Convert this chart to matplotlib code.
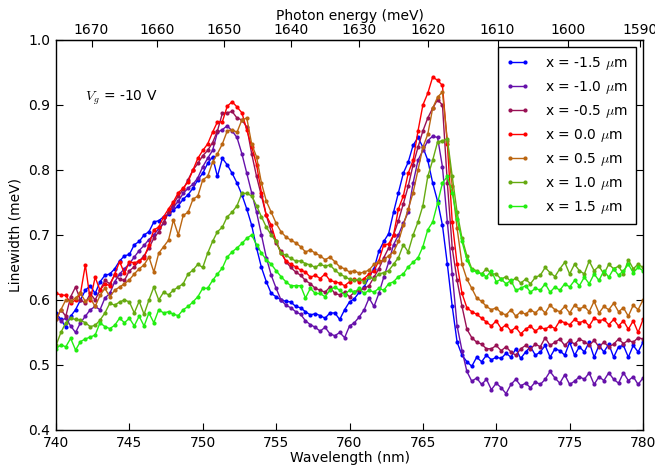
import numpy as np
import matplotlib
matplotlib.use('Agg')
import matplotlib.pyplot as plt

# wavelength grid of the spectrometer (nm), 1/3 nm steps
wl = np.round(np.linspace(740, 780, 121), 3)

lw_m15 = [0.580, 0.570, 0.558, 0.575, 0.585, 0.600, 0.615, 0.622, 0.610, 0.628, 0.638, 0.640,
          0.648, 0.660, 0.668, 0.670, 0.685, 0.690, 0.700, 0.705, 0.720, 0.722, 0.728, 0.732,
          0.738, 0.745, 0.755, 0.762, 0.772, 0.785, 0.795, 0.810, 0.820, 0.790, 0.818, 0.808,
          0.795, 0.780, 0.762, 0.740, 0.715, 0.680, 0.650, 0.628, 0.610, 0.605, 0.600, 0.598,
          0.597, 0.590, 0.588, 0.582, 0.577, 0.579, 0.576, 0.572, 0.580, 0.580, 0.570, 0.585,
          0.597, 0.602, 0.612, 0.620, 0.635, 0.648, 0.675, 0.690, 0.702, 0.735, 0.765, 0.795,
          0.812, 0.838, 0.850, 0.835, 0.815, 0.780, 0.752, 0.715, 0.655, 0.590, 0.535, 0.515,
          0.505, 0.498, 0.512, 0.505, 0.515, 0.508, 0.512, 0.510, 0.518, 0.512, 0.525, 0.510,
          0.520, 0.528, 0.515, 0.520, 0.530, 0.512, 0.525, 0.522, 0.515, 0.535, 0.515, 0.528,
          0.520, 0.535, 0.512, 0.530, 0.520, 0.532, 0.512, 0.528, 0.530, 0.512, 0.530, 0.520,
          0.535]
lw_m10 = [0.575, 0.568, 0.572, 0.560, 0.550, 0.565, 0.575, 0.585, 0.590, 0.585, 0.603, 0.610,
          0.628, 0.640, 0.648, 0.656, 0.666, 0.676, 0.684, 0.693, 0.700, 0.710, 0.718, 0.735,
          0.743, 0.752, 0.764, 0.772, 0.778, 0.788, 0.805, 0.818, 0.830, 0.858, 0.862, 0.868,
          0.860, 0.850, 0.825, 0.795, 0.765, 0.735, 0.700, 0.665, 0.638, 0.618, 0.600, 0.592,
          0.588, 0.582, 0.578, 0.568, 0.562, 0.558, 0.552, 0.558, 0.548, 0.545, 0.550, 0.542,
          0.560, 0.565, 0.574, 0.585, 0.603, 0.590, 0.610, 0.635, 0.658, 0.685, 0.700, 0.718,
          0.735, 0.780, 0.815, 0.830, 0.845, 0.852, 0.850, 0.805, 0.720, 0.640, 0.560, 0.522,
          0.490, 0.475, 0.480, 0.470, 0.478, 0.462, 0.472, 0.465, 0.456, 0.470, 0.478, 0.468,
          0.472, 0.465, 0.474, 0.470, 0.478, 0.490, 0.480, 0.472, 0.485, 0.470, 0.475, 0.482,
          0.478, 0.488, 0.470, 0.482, 0.476, 0.488, 0.478, 0.472, 0.488, 0.476, 0.482, 0.470,
          0.480]
lw_m05 = [0.570, 0.585, 0.575, 0.605, 0.620, 0.600, 0.595, 0.610, 0.600, 0.615, 0.630, 0.625,
          0.638, 0.632, 0.630, 0.645, 0.651, 0.660, 0.668, 0.680, 0.695, 0.705, 0.720, 0.735,
          0.748, 0.760, 0.770, 0.785, 0.800, 0.810, 0.822, 0.830, 0.842, 0.860, 0.887, 0.888,
          0.890, 0.880, 0.877, 0.866, 0.825, 0.790, 0.760, 0.730, 0.705, 0.688, 0.675, 0.659,
          0.650, 0.643, 0.638, 0.630, 0.625, 0.618, 0.615, 0.612, 0.620, 0.610, 0.608, 0.612,
          0.605, 0.612, 0.615, 0.618, 0.622, 0.635, 0.648, 0.665, 0.680, 0.700, 0.722, 0.748,
          0.775, 0.808, 0.835, 0.860, 0.880, 0.895, 0.908, 0.900, 0.780, 0.680, 0.630, 0.590,
          0.555, 0.542, 0.535, 0.532, 0.525, 0.525, 0.530, 0.522, 0.528, 0.520, 0.515, 0.525,
          0.530, 0.525, 0.532, 0.528, 0.542, 0.530, 0.535, 0.540, 0.530, 0.538, 0.532, 0.540,
          0.536, 0.530, 0.538, 0.528, 0.535, 0.528, 0.532, 0.540, 0.533, 0.538, 0.535, 0.542,
          0.540]
lw_00 = [0.610, 0.608, 0.607, 0.595, 0.600, 0.610, 0.654, 0.600, 0.635, 0.615, 0.625, 0.622,
         0.640, 0.659, 0.641, 0.659, 0.657, 0.660, 0.665, 0.685, 0.708, 0.712, 0.728, 0.740,
         0.751, 0.765, 0.772, 0.782, 0.800, 0.818, 0.830, 0.840, 0.858, 0.874, 0.874, 0.898,
         0.905, 0.897, 0.888, 0.862, 0.836, 0.808, 0.765, 0.730, 0.715, 0.690, 0.672, 0.660,
         0.655, 0.651, 0.646, 0.643, 0.635, 0.638, 0.633, 0.640, 0.630, 0.628, 0.626, 0.622,
         0.628, 0.632, 0.628, 0.633, 0.640, 0.645, 0.660, 0.685, 0.686, 0.700, 0.740, 0.760,
         0.795, 0.815, 0.860, 0.900, 0.918, 0.943, 0.938, 0.930, 0.840, 0.720, 0.655, 0.610,
         0.588, 0.582, 0.578, 0.572, 0.566, 0.560, 0.568, 0.556, 0.562, 0.552, 0.558, 0.548,
         0.555, 0.560, 0.552, 0.558, 0.555, 0.560, 0.556, 0.568, 0.565, 0.562, 0.570, 0.565,
         0.568, 0.560, 0.572, 0.568, 0.570, 0.562, 0.570, 0.560, 0.568, 0.555, 0.568, 0.550,
         0.570]
lw_05 = [0.570, 0.585, 0.600, 0.598, 0.603, 0.610, 0.598, 0.603, 0.590, 0.607, 0.618, 0.605,
         0.615, 0.620, 0.625, 0.631, 0.640, 0.648, 0.654, 0.666, 0.643, 0.672, 0.682, 0.692,
         0.723, 0.700, 0.730, 0.735, 0.755, 0.760, 0.785, 0.790, 0.812, 0.825, 0.840, 0.860,
         0.862, 0.858, 0.877, 0.880, 0.840, 0.820, 0.780, 0.752, 0.735, 0.718, 0.705, 0.697,
         0.692, 0.688, 0.682, 0.674, 0.677, 0.672, 0.668, 0.662, 0.666, 0.659, 0.651, 0.648,
         0.643, 0.645, 0.641, 0.643, 0.646, 0.655, 0.659, 0.662, 0.668, 0.674, 0.690, 0.715,
         0.740, 0.765, 0.800, 0.835, 0.855, 0.895, 0.912, 0.920, 0.845, 0.775, 0.710, 0.655,
         0.632, 0.618, 0.603, 0.598, 0.590, 0.585, 0.588, 0.580, 0.577, 0.585, 0.575, 0.582,
         0.578, 0.585, 0.580, 0.588, 0.580, 0.592, 0.585, 0.582, 0.590, 0.580, 0.592, 0.586,
         0.590, 0.582, 0.598, 0.580, 0.590, 0.585, 0.595, 0.582, 0.588, 0.575, 0.592, 0.585,
         0.600]
lw_10 = [0.530, 0.550, 0.565, 0.572, 0.570, 0.569, 0.565, 0.559, 0.561, 0.569, 0.580, 0.595,
         0.592, 0.597, 0.600, 0.597, 0.580, 0.598, 0.578, 0.600, 0.620, 0.600, 0.612, 0.608,
         0.615, 0.620, 0.625, 0.640, 0.646, 0.655, 0.650, 0.672, 0.690, 0.705, 0.712, 0.728,
         0.735, 0.745, 0.764, 0.764, 0.760, 0.745, 0.728, 0.712, 0.700, 0.690, 0.672, 0.669,
         0.664, 0.660, 0.660, 0.656, 0.654, 0.650, 0.655, 0.652, 0.654, 0.646, 0.640, 0.636,
         0.632, 0.630, 0.632, 0.628, 0.636, 0.632, 0.640, 0.642, 0.645, 0.655, 0.665, 0.685,
         0.674, 0.700, 0.720, 0.745, 0.790, 0.815, 0.843, 0.845, 0.848, 0.790, 0.735, 0.695,
         0.668, 0.648, 0.645, 0.640, 0.648, 0.640, 0.640, 0.632, 0.636, 0.628, 0.634, 0.626,
         0.632, 0.625, 0.635, 0.638, 0.650, 0.642, 0.636, 0.648, 0.658, 0.640, 0.655, 0.645,
         0.640, 0.660, 0.645, 0.652, 0.640, 0.655, 0.648, 0.652, 0.640, 0.662, 0.648, 0.655,
         0.650]
lw_15 = [0.525, 0.531, 0.528, 0.541, 0.523, 0.536, 0.540, 0.543, 0.546, 0.565, 0.559, 0.556,
         0.561, 0.572, 0.565, 0.572, 0.560, 0.575, 0.560, 0.580, 0.565, 0.585, 0.580, 0.582,
         0.578, 0.576, 0.585, 0.590, 0.597, 0.605, 0.618, 0.618, 0.630, 0.640, 0.649, 0.666,
         0.674, 0.680, 0.687, 0.695, 0.700, 0.685, 0.672, 0.662, 0.655, 0.645, 0.636, 0.628,
         0.622, 0.622, 0.622, 0.603, 0.618, 0.610, 0.610, 0.605, 0.615, 0.620, 0.615, 0.608,
         0.615, 0.612, 0.618, 0.610, 0.615, 0.612, 0.618, 0.615, 0.625, 0.628, 0.636, 0.640,
         0.651, 0.658, 0.665, 0.682, 0.708, 0.720, 0.749, 0.780, 0.790, 0.765, 0.725, 0.690,
         0.662, 0.646, 0.643, 0.640, 0.636, 0.645, 0.628, 0.632, 0.625, 0.630, 0.615, 0.618,
         0.622, 0.612, 0.618, 0.615, 0.625, 0.612, 0.620, 0.615, 0.625, 0.620, 0.630, 0.622,
         0.635, 0.625, 0.640, 0.630, 0.645, 0.635, 0.648, 0.638, 0.645, 0.655, 0.642, 0.650,
         0.645]

series = [lw_m15, lw_m10, lw_m05, lw_00, lw_05, lw_10, lw_15]
labels = ['x = -1.5 $\\mu$m', 'x = -1.0 $\\mu$m', 'x = -0.5 $\\mu$m', 'x = 0.0 $\\mu$m',
          'x = 0.5 $\\mu$m', 'x = 1.0 $\\mu$m', 'x = 1.5 $\\mu$m']
colors = ['#0000ff', '#6611aa', '#991155', '#ff0000', '#bb6611', '#66aa11', '#22ee11']

energy_ticks = [1670, 1660, 1650, 1640, 1630, 1620, 1610, 1600, 1590]
hc = 1239841.98  # meV nm

plt.rcParams['font.size'] = 10
plt.rcParams['mathtext.fontset'] = 'cm'

fig = plt.figure(figsize=(6.55, 4.66), dpi=100)
ax = fig.add_axes([0.0855, 0.0773, 0.8962, 0.8369])

for y, lab, c in zip(series, labels, colors):
    ax.plot(wl, y, '-o', color=c, lw=1.0, ms=3, mew=0, label=lab)

ax.set_xlim(740, 780)
ax.set_ylim(0.4, 1.0)
ax.set_xticks([740, 745, 750, 755, 760, 765, 770, 775, 780])
ax.set_yticks([0.4, 0.5, 0.6, 0.7, 0.8, 0.9, 1.0])
ax.set_xlabel('Wavelength (nm)', labelpad=1)
ax.set_ylabel('Linewidth (meV)', labelpad=4)
ax.tick_params(direction='in', length=5, right=True, top=False, pad=4)
for s in ax.spines.values():
    s.set_linewidth(1.0)

top = ax.secondary_xaxis('top', functions=(lambda l: hc / l, lambda e: hc / e))
top.set_xticks(energy_ticks)
top.tick_params(direction='in', length=5, pad=2)
top.set_xlabel('Photon energy (meV)', labelpad=2)

ax.text(0.05, 0.845, '$V_g$ = -10 V', transform=ax.transAxes, fontsize=10,
        math_fontfamily='cm')

leg = ax.legend(loc='upper right', fancybox=False, edgecolor='black', framealpha=1,
                borderaxespad=0.5, labelspacing=0.5, handlelength=1.7, handletextpad=1.1,
                numpoints=2, borderpad=0.6)
leg.get_frame().set_linewidth(1.0)

fig.savefig('out.png', dpi=100)
